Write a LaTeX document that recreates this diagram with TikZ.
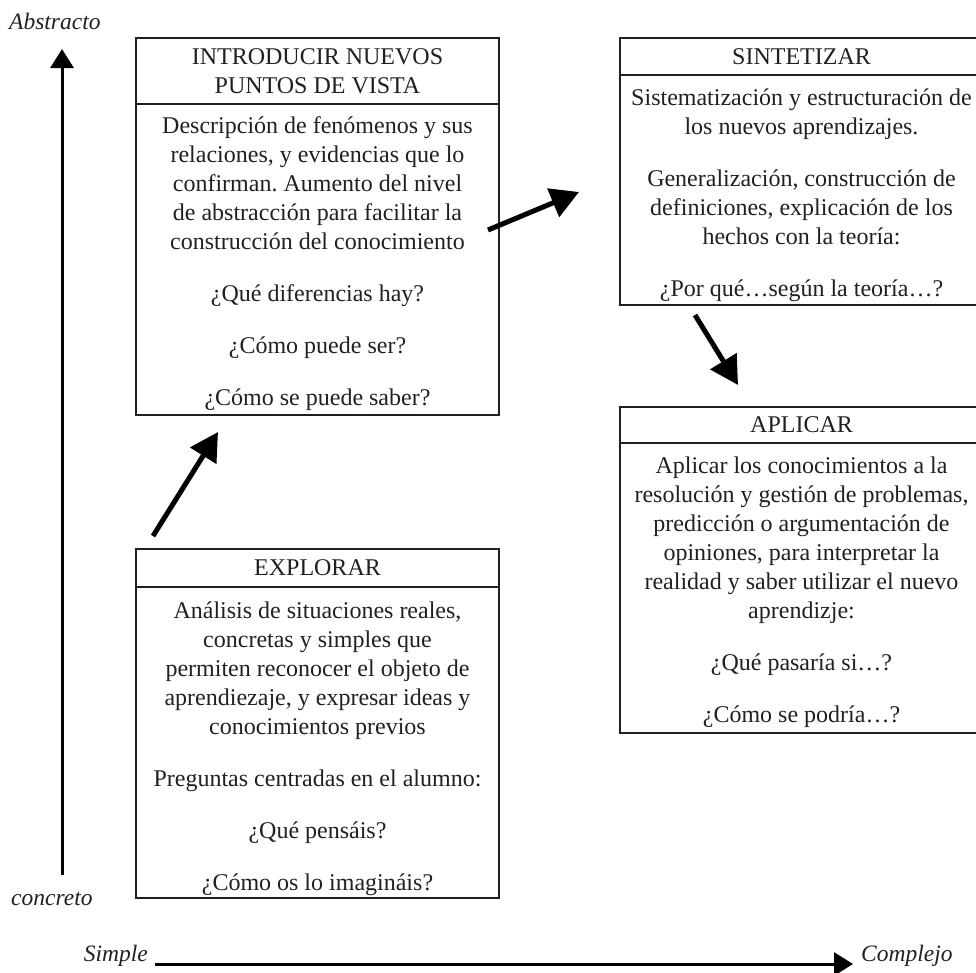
\documentclass[tikz,border=0pt]{standalone}
\usepackage{fontspec}
\setmainfont{Liberation Serif}
\usetikzlibrary{arrows.meta}
\frenchspacing
\definecolor{ink}{HTML}{231F20}
\newcommand{\mainsize}{\fontsize{24}{29}\selectfont}
\newcommand{\axisfont}{\fontsize{23.5}{27}\selectfont\itshape}
\tikzset{
  boxline/.style={draw=ink, line width=2.5pt, rectangle, inner sep=0pt},
  hdr/.style={boxline, align=center, font=\mainsize, text=ink},
  bodyrect/.style={boxline},
  bodytxt/.style={anchor=north, inner sep=0pt, align=center, font=\mainsize, text=ink},
  axislbl/.style={font=\axisfont, inner sep=0pt, text=ink},
  bigarrow/.style={line width=5pt, -{Triangle[length=28pt,width=30pt]}},
  axisarrow/.style={line width=3pt, -{Triangle[length=19pt,width=23pt]}},
}
\begin{document}
\begin{tikzpicture}[x=1pt,y=-1pt]
\useasboundingbox (0,0) rectangle (976,972);

% INTRODUCIR box
\node[hdr, minimum width=363pt, minimum height=66pt] (introH) at (317.5,71) {INTRODUCIR NUEVOS\\PUNTOS DE VISTA};
\node[bodyrect, minimum width=363pt, minimum height=311pt] (introB) at (317.5,259.5) {};
\node[bodytxt] (introT) at (317.5,112.7) {\strut Descripción de fenómenos y sus\\relaciones, y evidencias que lo\\confirman. Aumento del nivel\\de abstracción para facilitar la\\construcción del conocimiento\\[23pt]¿Qué diferencias hay?\\[23pt]¿Cómo puede ser?\\[23pt]¿Cómo se puede saber?};

% SINTETIZAR box
\node[hdr, minimum width=363pt, minimum height=37pt] (sintH) at (801.5,56.5) {SINTETIZAR};
\node[bodyrect, minimum width=363pt, minimum height=230pt] (sintB) at (801.5,190) {};
\node[bodytxt] (sintT) at (801.5,84.7) {\strut Sistematización y estructuración de\\los nuevos aprendizajes.\\[23pt]Generalización, construcción de\\definiciones, explicación de los\\hechos con la teoría:\\[23pt]¿Por qué…según la teoría…?};

% EXPLORAR box
\node[hdr, minimum width=363pt, minimum height=38pt] (explH) at (317.5,568) {EXPLORAR};
\node[bodyrect, minimum width=363pt, minimum height=311pt] (explB) at (317.5,742.5) {};
\node[bodytxt] (explT) at (317.5,597.7) {\strut Análisis de situaciones reales,\\concretas y simples que\\permiten reconocer el objeto de\\aprendiezaje, y expresar ideas y\\conocimientos previos\\[23pt]Preguntas centradas en el alumno:\\[23pt]¿Qué pensáis?\\[23pt]¿Cómo os lo imagináis?};

% APLICAR box
\node[hdr, minimum width=363pt, minimum height=36pt] (aplH) at (801.5,425) {APLICAR};
\node[bodyrect, minimum width=363pt, minimum height=290pt] (aplB) at (801.5,588) {};
\node[bodytxt] (aplT) at (801.5,452.7) {\strut Aplicar los conocimientos a la\\resolución y gestión de problemas,\\predicción o argumentación de\\opiniones, para interpretar la\\realidad y saber utilizar el nuevo\\aprendizje:\\[23pt]¿Qué pasaría si…?\\[23pt]¿Cómo se podría…?};

% arrows between boxes
\coordinate (a1s) at (153,536);
\coordinate (a1e) at (218,432);
\coordinate (a2s) at (488,230);
\coordinate (a2e) at (579,192);
\coordinate (a3s) at (695,315);
\coordinate (a3e) at (738,385);
\draw[bigarrow] (a1s) -- (a1e);
\draw[bigarrow] (a2s) -- (a2e);
\draw[bigarrow] (a3s) -- (a3e);

% axes
\coordinate (vs) at (62,875);
\coordinate (ve) at (62,49);
\coordinate (hs) at (155,964);
\coordinate (he) at (853,964);
\draw[axisarrow] (vs) -- (ve);
\draw[axisarrow] (hs) -- (he);

\node[axislbl, anchor=base west] (abs) at (9,29) {Abstracto};
\node[axislbl, anchor=base west] (con) at (11,905) {concreto};
\node[axislbl, anchor=base east] (sim) at (148,961) {Simple};
\node[axislbl, anchor=base west] (com) at (861,961) {Complejo};
\end{tikzpicture}
\end{document}
